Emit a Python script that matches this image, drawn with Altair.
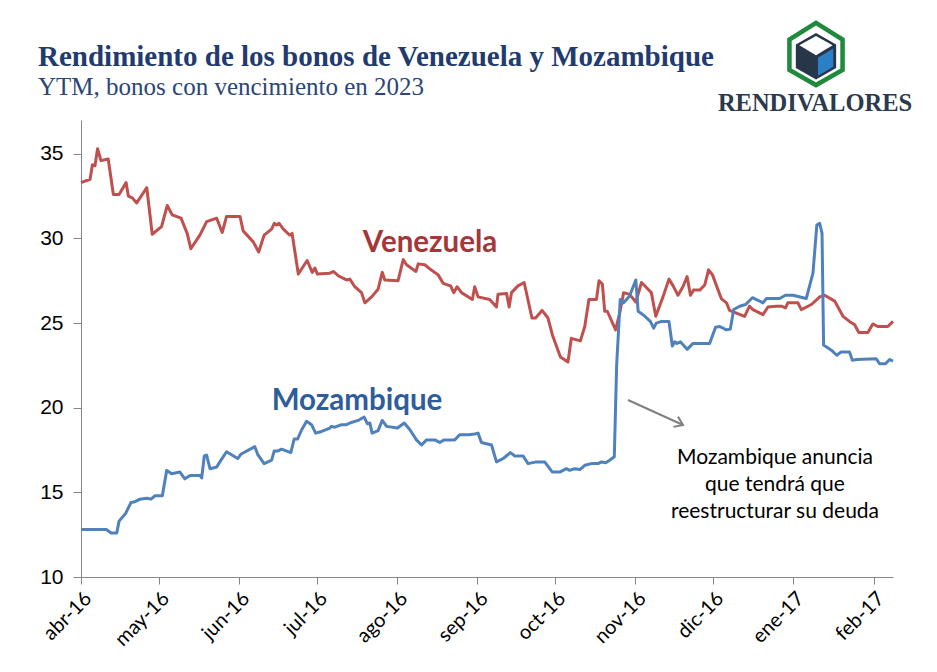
import json
import pandas as pd
import altair as alt

# ---------------- data ----------------
title_text = "Rendimiento de los bonos de Venezuela y Mozambique"
subtitle_text = "YTM, bonos con vencimiento en 2023"
brand_text = "RENDIVALORES"
note_lines = ["Mozambique anuncia", "que tendrá que", "reestructurar su deuda"]

series_names = ["Venezuela", "Mozambique"]
series_colors = ["#C0504D", "#4F81BD"]
label_colors = ["#A3383A", "#2F5C9A"]

# days counted from 1 April 2016
month_ticks = [0, 30, 61, 91, 122, 153, 183, 214, 244, 275, 306]
month_labels = ["abr-16", "may-16", "jun-16", "jul-16", "ago-16", "sep-16",
                "oct-16", "nov-16", "dic-16", "ene-17", "feb-17"]
y_ticks = [10, 15, 20, 25, 30, 35]

ven_days = [0, 3.5, 4.4, 5.4, 6.4, 7.7, 10.5, 12.5, 14.7, 17.4,
            18.3, 19.8, 21.5, 25.4, 27.5, 31.1, 33.3, 35.2, 38.6, 41.0,
            42.4, 45.9, 48.5, 52.4, 54.5, 56.2, 57.9, 61.4, 62.6, 66.5,
            68.6, 70.7, 73.6, 74.6, 75.5, 76.5, 78.1, 80.6, 81.5, 83.9,
            87.3, 89.3, 90.3, 91.3, 96.1, 97.4, 99.3, 102.5, 103.8, 105.7,
            108.3, 109.6, 112.2, 114.7, 116.3, 117.3, 122.4, 124.4, 125.7, 129.3,
            130.2, 132.7, 134.7, 137.9, 139.8, 142.7, 143.9, 145.2, 146.9, 151.1,
            152.0, 153.3, 157.8, 160.4, 161.0, 164.3, 165.3, 166.2, 168.7, 171.1,
            174.1, 175.5, 178.0, 180.3, 182.0, 185.1, 188.0, 189.3, 192.8, 194.5,
            196.1, 199.0, 200.0, 201.3, 202.2, 203.2, 206.4, 208.0, 209.5, 211.8,
            214.2, 216.4, 218.3, 220.2, 221.9, 224.7, 227.0, 228.6, 230.5, 232.4,
            234.0, 235.3, 236.5, 238.9, 240.8, 242.3, 243.8, 247.2, 249.2, 250.4,
            256.2, 258.1, 259.4, 263.3, 265.2, 268.5, 270.4, 272.0, 272.9, 276.8,
            278.1, 282.0, 285.2, 287.1, 291.0, 294.2, 296.7, 298.7, 300.3, 303.8,
            305.7, 307.6, 311.5, 313.5]
ven_ytm = [33.3, 33.5, 34.35, 34.3, 35.3, 34.6, 34.7, 32.6, 32.6, 33.3,
           32.5, 32.4, 32.1, 33.0, 30.25, 30.7, 31.95, 31.4, 31.2, 30.3,
           29.4, 30.2, 31.0, 31.2, 30.35, 31.3, 31.3, 31.3, 30.45, 29.8,
           29.2, 30.2, 30.55, 30.9, 30.8, 30.9, 30.55, 30.2, 30.3, 27.9,
           28.7, 28.0, 28.25, 27.9, 27.95, 28.05, 27.8, 27.55, 27.6, 27.15,
           26.8, 26.2, 26.55, 27.0, 28.0, 27.55, 27.5, 28.75, 28.45, 28.05,
           28.5, 28.45, 28.2, 27.85, 27.35, 27.2, 26.8, 27.15, 26.8, 26.4,
           27.15, 26.55, 26.4, 25.95, 26.7, 26.75, 25.95, 26.8, 27.2, 27.4,
           25.3, 25.3, 25.75, 25.3, 24.3, 23.0, 22.7, 24.1, 23.95, 24.8,
           26.4, 26.4, 27.5, 27.3, 25.7, 25.7, 24.6, 25.6, 26.8, 26.7,
           26.25, 27.4, 27.1, 26.8, 25.4, 26.55, 27.6, 27.2, 26.65, 27.15,
           27.75, 26.65, 26.95, 26.95, 27.25, 28.15, 27.85, 26.45, 26.2, 25.75,
           25.4, 26.0, 25.8, 25.5, 25.95, 26.0, 26.0, 25.9, 26.2, 26.2,
           25.8, 26.1, 26.55, 26.65, 26.3, 25.4, 25.1, 24.9, 24.45, 24.45,
           24.95, 24.8, 24.8, 25.1]

moz_days = [0, 9.9, 11.6, 13.8, 14.7, 17.2, 19.3, 20.8, 22.8, 25.4,
            27.0, 28.6, 31.4, 33.1, 35.0, 38.2, 40.1, 42.1, 45.9, 46.6,
            47.6, 48.5, 49.8, 52.4, 53.6, 56.2, 60.5, 61.7, 67.1, 68.2,
            70.7, 73.6, 74.6, 76.1, 77.4, 81.0, 82.3, 83.6, 85.2, 87.1,
            89.0, 90.6, 92.9, 96.1, 96.7, 98.0, 100.6, 102.5, 103.8, 107.0,
            109.3, 110.6, 111.5, 112.4, 114.7, 116.3, 118.0, 122.2, 124.8, 127.0,
            129.5, 131.5, 133.4, 136.6, 138.5, 140.2, 144.3, 146.2, 149.5, 152.0,
            153.3, 154.6, 158.5, 160.4, 163.0, 165.8, 167.5, 170.7, 172.6, 175.8,
            179.0, 182.0, 184.8, 187.4, 188.7, 190.6, 192.6, 194.5, 197.1, 199.6,
            200.9, 202.6, 204.1, 205.9, 206.8, 208.2, 209.5, 211.8, 214.2, 215.1,
            217.0, 219.8, 221.1, 222.1, 224.1, 227.0, 228.3, 229.2, 230.1, 231.4,
            234.0, 236.3, 242.7, 245.0, 246.6, 249.2, 250.7, 252.0, 254.3, 256.6,
            259.2, 261.4, 263.3, 264.6, 269.7, 272.0, 274.9, 280.0, 282.6, 284.1,
            285.2, 286.1, 286.7, 289.7, 291.8, 293.5, 296.7, 297.8, 299.3, 307.0,
            308.3, 310.6, 312.2, 313.5]
moz_ytm = [12.8, 12.8, 12.6, 12.6, 13.3, 13.75, 14.4, 14.45, 14.6, 14.65,
           14.6, 14.8, 14.8, 16.3, 16.1, 16.2, 15.8, 16.0, 16.0, 15.85,
           17.15, 17.2, 16.4, 16.5, 16.8, 17.4, 17.0, 17.25, 17.7, 17.25,
           16.7, 16.9, 17.45, 17.45, 17.55, 17.35, 18.15, 18.15, 18.7, 19.2,
           19.0, 18.5, 18.6, 18.8, 18.9, 18.85, 19.0, 19.0, 19.1, 19.25,
           19.45, 19.05, 19.1, 18.5, 18.65, 19.25, 18.9, 18.8, 19.1, 18.7,
           18.1, 17.8, 18.1, 18.1, 17.95, 18.1, 18.1, 18.4, 18.4, 18.45,
           18.5, 17.95, 17.8, 16.8, 17.0, 17.35, 17.15, 17.15, 16.7, 16.8,
           16.8, 16.2, 16.2, 16.4, 16.3, 16.4, 16.35, 16.6, 16.7, 16.7,
           16.8, 16.75, 16.9, 17.1, 22.5, 26.4, 26.2, 26.6, 27.55, 25.7,
           25.5, 25.1, 24.7, 25.0, 25.1, 25.1, 23.65, 23.9, 23.8, 23.9,
           23.45, 23.8, 23.8, 24.75, 24.8, 24.6, 24.65, 25.8, 26.0, 26.1,
           26.5, 26.35, 26.2, 26.45, 26.45, 26.65, 26.65, 26.45, 27.95, 30.8,
           30.9, 30.3, 23.7, 23.4, 23.1, 23.3, 23.3, 22.8, 22.85, 22.9,
           22.6, 22.6, 22.85, 22.75]

# ---------------- layout ----------------
W, H = 812, 457
X_END = 313.5

ven_df = pd.DataFrame({"day": ven_days, "ytm": ven_ytm, "serie": series_names[0]})
moz_df = pd.DataFrame({"day": moz_days, "ytm": moz_ytm, "serie": series_names[1]})

label_expr = f"{json.dumps(month_labels)}[indexof({json.dumps(month_ticks)}, datum.value)]"

x_enc = alt.X("day:Q",
              scale=alt.Scale(domain=[0, X_END], nice=False, zero=False),
              axis=alt.Axis(values=month_ticks, labelExpr=label_expr, labelAngle=-45,
                            title=None, grid=False, tickSize=7, labelFontSize=20,
                            labelFont="Lato", labelColor="#000000", labelPadding=4,
                            domainColor="#868686", tickColor="#868686"))
y_enc = alt.Y("ytm:Q",
              scale=alt.Scale(domain=[10, 37], nice=False, zero=False),
              axis=alt.Axis(values=y_ticks, title=None, grid=False, tickSize=8,
                            labelFontSize=21, labelFont="Liberation Sans",
                            labelColor="#000000", labelPadding=10,
                            domainColor="#868686", tickColor="#868686"))


def line_layer(df, color):
    return alt.Chart(df).mark_line(strokeWidth=3, strokeJoin="round", color=color).encode(
        x=x_enc, y=y_enc)


def text_layer(text, x, y, **kw):
    return alt.Chart(pd.DataFrame({"t": [text]})).mark_text(**kw).encode(
        text="t:N", x=alt.value(x), y=alt.value(y))


def shape_layer(path, x, y, size, **kw):
    return alt.Chart(pd.DataFrame({"k": [0]})).mark_point(shape=path, size=size, opacity=1, **kw).encode(
        x=alt.value(x), y=alt.value(y))


layers = [
    line_layer(ven_df, series_colors[0]),
    line_layer(moz_df, series_colors[1]),
    text_layer(series_names[0], 349, 123, font="Lato", fontSize=29.5, fontWeight="bold",
               color=label_colors[0], align="center"),
    text_layer(series_names[1], 276, 281, font="Lato", fontSize=29.5, fontWeight="bold",
               color=label_colors[1], align="center"),
    # title block
    text_layer(title_text, -43, -63, font="Liberation Serif", fontSize=29, fontWeight="bold",
               color="#1F3B70", align="left"),
    text_layer(subtitle_text, -43, -33, font="Liberation Serif", fontSize=25,
               color="#2A4677", align="left"),
    text_layer(brand_text, 734, -16, font="Liberation Serif", fontSize=24.5, fontWeight="bold",
               color="#2C3A4E", align="center"),
]

# logo
U = 4096
layers += [
    shape_layer("M 0 -0.97 L 0.83 -0.45 L 0.83 0.5 L 0 0.97 L -0.83 0.5 L -0.83 -0.45 Z",
                735, -66, U, filled=False, stroke="#1D8A3C", strokeWidth=4.5),
    shape_layer("M 0 -0.66 L 0.63 -0.3 L 0.63 0.44 L 0 0.8 L -0.63 0.44 L -0.63 -0.3 Z",
                735, -66, U, filled=True, fill="#283649", strokeWidth=0),
    shape_layer("M 0 -0.56 L 0.52 -0.27 L 0 0.04 L -0.52 -0.27 Z",
                735, -66, U, filled=True, fill="#FFFFFF", strokeWidth=0),
    shape_layer("M 0.06 0.12 L 0.54 -0.17 L 0.54 0.4 L 0.06 0.68 Z",
                735, -66, U, filled=True, fill="#2B7FC6", strokeWidth=0),
]

# annotation
layers += [
    alt.Chart(pd.DataFrame({"k": [0]})).mark_rule(color="#808080", strokeWidth=2).encode(
        x=alt.value(547), y=alt.value(280), x2=alt.value(602), y2=alt.value(305)),
    shape_layer("M -1 -0.7 L 0 0 L -1 0.7", 602, 305, 256, filled=False,
                stroke="#808080", strokeWidth=2, angle=24),
]
for i, line in enumerate(note_lines):
    layers.append(text_layer(line, 694, 338 + 27 * i, font="Lato", fontSize=21,
                             color="#000000", align="center"))

chart = alt.layer(*layers).properties(
    width=W, height=H,
    autosize=alt.AutoSizeParams(type="none"),
    padding={"left": 73, "top": 112, "right": 36, "bottom": 87},
).configure(background="white", view=alt.ViewConfig(stroke=None))

chart.save("out.html", embed_options={"renderer": "svg", "actions": False})
